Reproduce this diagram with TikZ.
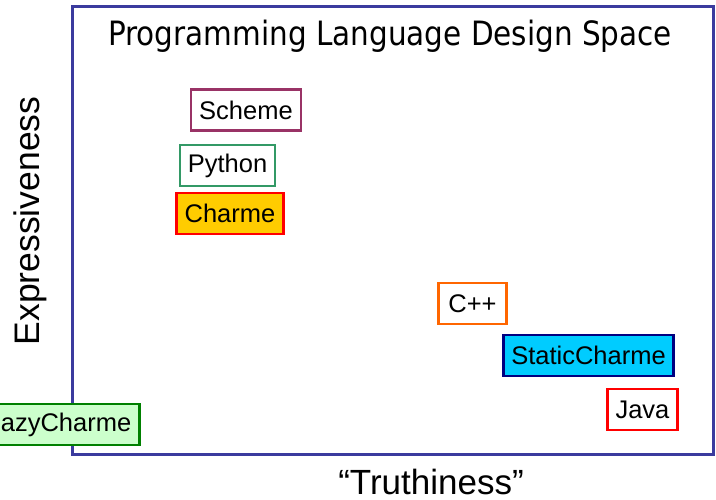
\documentclass[tikz,border=0pt]{standalone}
\usepackage{fontspec}
\usepackage{tikz}
\setmainfont{Liberation Sans}
\newfontfamily\titlefont{DejaVu Sans}

\definecolor{framecol}{HTML}{3B3B9E}
\definecolor{plum}{HTML}{993366}
\definecolor{seagreen}{HTML}{339966}
\definecolor{gold}{HTML}{FFCC00}
\definecolor{orng}{HTML}{FF6600}
\definecolor{sky}{HTML}{00CCFF}
\definecolor{navy}{HTML}{000080}
\definecolor{palegreen}{HTML}{CCFFCC}
\definecolor{dkgreen}{HTML}{008000}

\begin{document}
\begin{tikzpicture}[x=1pt,y=-1pt,
  lang/.style={draw,line width=2.5pt,inner xsep=8pt,minimum height=41pt,
    font=\fontsize{25.5}{30}\selectfont}]
 \clip (0,0) rectangle (716,499);
 \fill[white] (0,0) rectangle (716,499);

 % the design space
 \draw[framecol,line width=3pt] (72,6) rectangle (713,454);
 \node (title) at (390,36) {\titlefont\fontsize{33.5}{40}\selectfont\scalebox{0.88}[1]{Programming Language Design Space}};

 % axes
 \node[rotate=90,font=\fontsize{35.5}{40}\selectfont] (ylab) at (30,221) {Expressiveness};
 \node[font=\fontsize{35}{40}\selectfont,inner sep=0pt,anchor=base] (xlab) at (431,494) {``Truthiness''};

 % languages
 \node[lang,draw=plum] (scheme) at (246,110) {Scheme};
 \node[lang,draw=seagreen] (python) at (227.5,165.5) {Python};
 \node[lang,draw=red,fill=gold] (charme) at (230,213.5) {Charme};
 \node[lang,draw=orng,inner xsep=10pt] (cpp) at (472.5,303.5) {C++};
 \node[lang,draw=navy,fill=sky] (static) at (588.5,355.5) {StaticCharme};
 \node[lang,draw=red] (java) at (642.5,409.5) {Java};
 \node[lang,draw=dkgreen,fill=palegreen] (lazy) at (59,424.5) {LazyCharme};
\end{tikzpicture}
\end{document}
